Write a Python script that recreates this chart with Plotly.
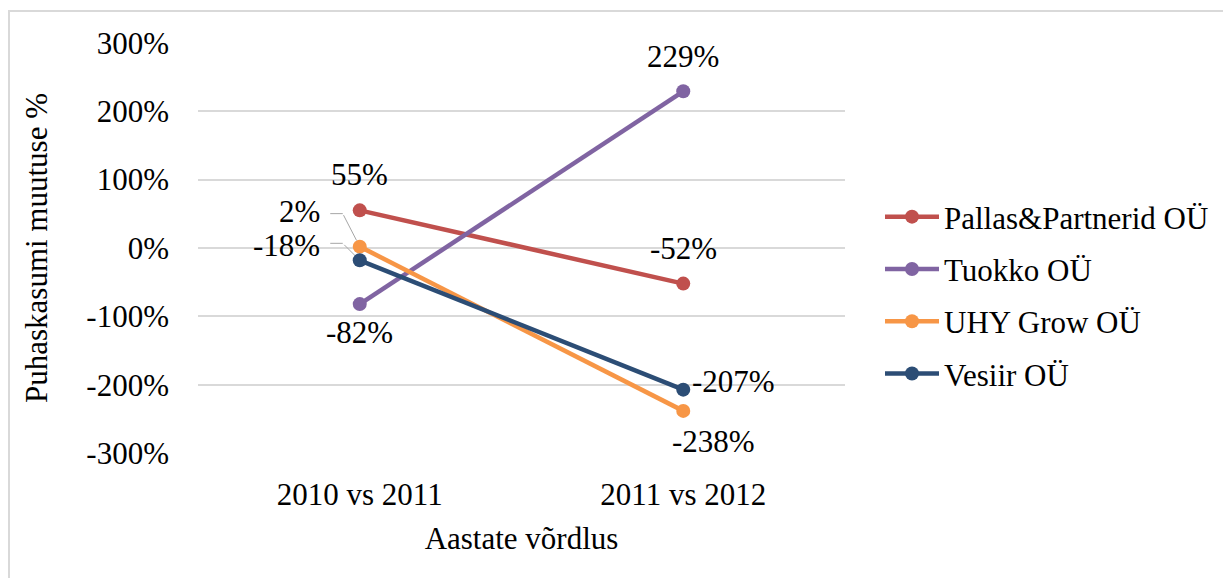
import plotly.graph_objects as go

categories = ["2010 vs 2011", "2011 vs 2012"]
series_names = ["Pallas&Partnerid OÜ", "Tuokko OÜ", "UHY Grow OÜ", "Vesiir OÜ"]
pallas = [55, -52]
tuokko = [-82, 229]
uhy = [2, -238]
vesiir = [-18, -207]
colors = ["#C0504D", "#8064A2", "#F79646", "#2C4D75"]
yticks = [-300, -200, -100, 0, 100, 200, 300]

FONT = "Liberation Serif, Times New Roman, serif"
FS = 31

W, H = 1231, 578
OFF = 8  # page body margin
L, R, T, B = 198 - OFF, 845 - OFF, 42 - OFF, 454 - OFF

fig = go.Figure()
all_vals = [pallas, tuokko, uhy, vesiir]
for i, (name, vals) in enumerate(zip(series_names, all_vals)):
    fig.add_trace(go.Scatter(
        x=categories, y=vals, name=name, mode="lines+markers",
        line=dict(color=colors[i], width=4.5),
        marker=dict(color=colors[i], size=14),
        legendgroup=name,
    ))

# plain data labels: (series index, point index, ax, ay)
label_specs = [
    (0, 0, 0, -36),
    (0, 1, 0, -35),
    (1, 0, 0, 28),
    (1, 1, 0, -35),
    (2, 1, 30, 31),
    (3, 1, 50, -8),
]
for si, pi, ax, ay in label_specs:
    v = all_vals[si][pi]
    fig.add_annotation(
        x=categories[pi], y=v, text=f"{v}%", xref="x", yref="y",
        ax=ax, ay=ay, showarrow=True, arrowcolor="rgba(0,0,0,0)",
        arrowwidth=1, arrowhead=0, standoff=0,
        font=dict(family=FONT, size=FS, color="#000000"),
    )

# labels with elbow leader lines: (series index, point index, elbow dy, text dy)
leader_specs = [(2, 0, 33, 35), (3, 0, 17, 15)]
LC = "#A6A6A6"
for si, pi, dy, tdy in leader_specs:
    v = all_vals[si][pi]
    xc = categories[pi]
    # diagonal part
    fig.add_annotation(x=xc, y=v, xref="x", yref="y", text="", showarrow=True,
                       ax=-17, ay=-dy, arrowcolor=LC, arrowwidth=1, arrowhead=0, standoff=7)
    # horizontal part
    fig.add_annotation(x=xc, y=v, xref="x", yref="y", text="", showarrow=True,
                       xshift=-17, yshift=dy, ax=-14, ay=0,
                       arrowcolor=LC, arrowwidth=1, arrowhead=0, standoff=0)
    # text
    fig.add_annotation(x=xc, y=v, xref="x", yref="y", text=f"{v}%", showarrow=False,
                       xanchor="right", yanchor="middle", xshift=-39, yshift=tdy,
                       borderpad=0,
                       font=dict(family=FONT, size=FS, color="#000000"))

pw = R - L
ph = B - T
# chart border
fig.add_shape(type="rect", xref="paper", yref="paper",
              x0=(8 - OFF + 1 - L) / pw, x1=(W + 20 - L) / pw,
              y0=(B - (H + 20)) / ph, y1=(B - (10 - OFF + 1)) / ph,
              line=dict(color="#D9D9D9", width=2), layer="below")

fig.update_layout(
    width=W, height=H,
    margin=dict(l=L, r=W - R, t=T, b=H - B, autoexpand=False),
    paper_bgcolor="white", plot_bgcolor="white",
    font=dict(family=FONT, size=FS, color="#000000"),
    showlegend=True,
    legend=dict(x=(880 - OFF - L) / pw, y=(B - (190 - OFF)) / ph, xanchor="left", yanchor="top",
                font=dict(family=FONT, size=FS), traceorder="grouped",
                tracegroupgap=9, itemwidth=54, bgcolor="rgba(0,0,0,0)"),
    xaxis=dict(range=[-0.5, 1.5], showgrid=False, showline=False, zeroline=False,
               ticks="", tickfont=dict(family=FONT, size=FS), automargin=False,
               ticklabelstandoff=19,
               title=dict(text="Aastate võrdlus", font=dict(family=FONT, size=FS), standoff=16)),
    yaxis=dict(range=[-301, 301], tickvals=yticks,
               ticktext=[f"{v}%" for v in yticks],
               showgrid=True, gridcolor="#D9D9D9", gridwidth=1.5,
               zeroline=True, zerolinecolor="#D9D9D9", zerolinewidth=1.5,
               showline=False, ticks="", ticklabelstandoff=28, automargin=False,
               tickfont=dict(family=FONT, size=FS),
               title=dict(text="Puhaskasumi muutuse %", font=dict(family=FONT, size=FS), standoff=29)),
)

fig.write_html("out.html")
